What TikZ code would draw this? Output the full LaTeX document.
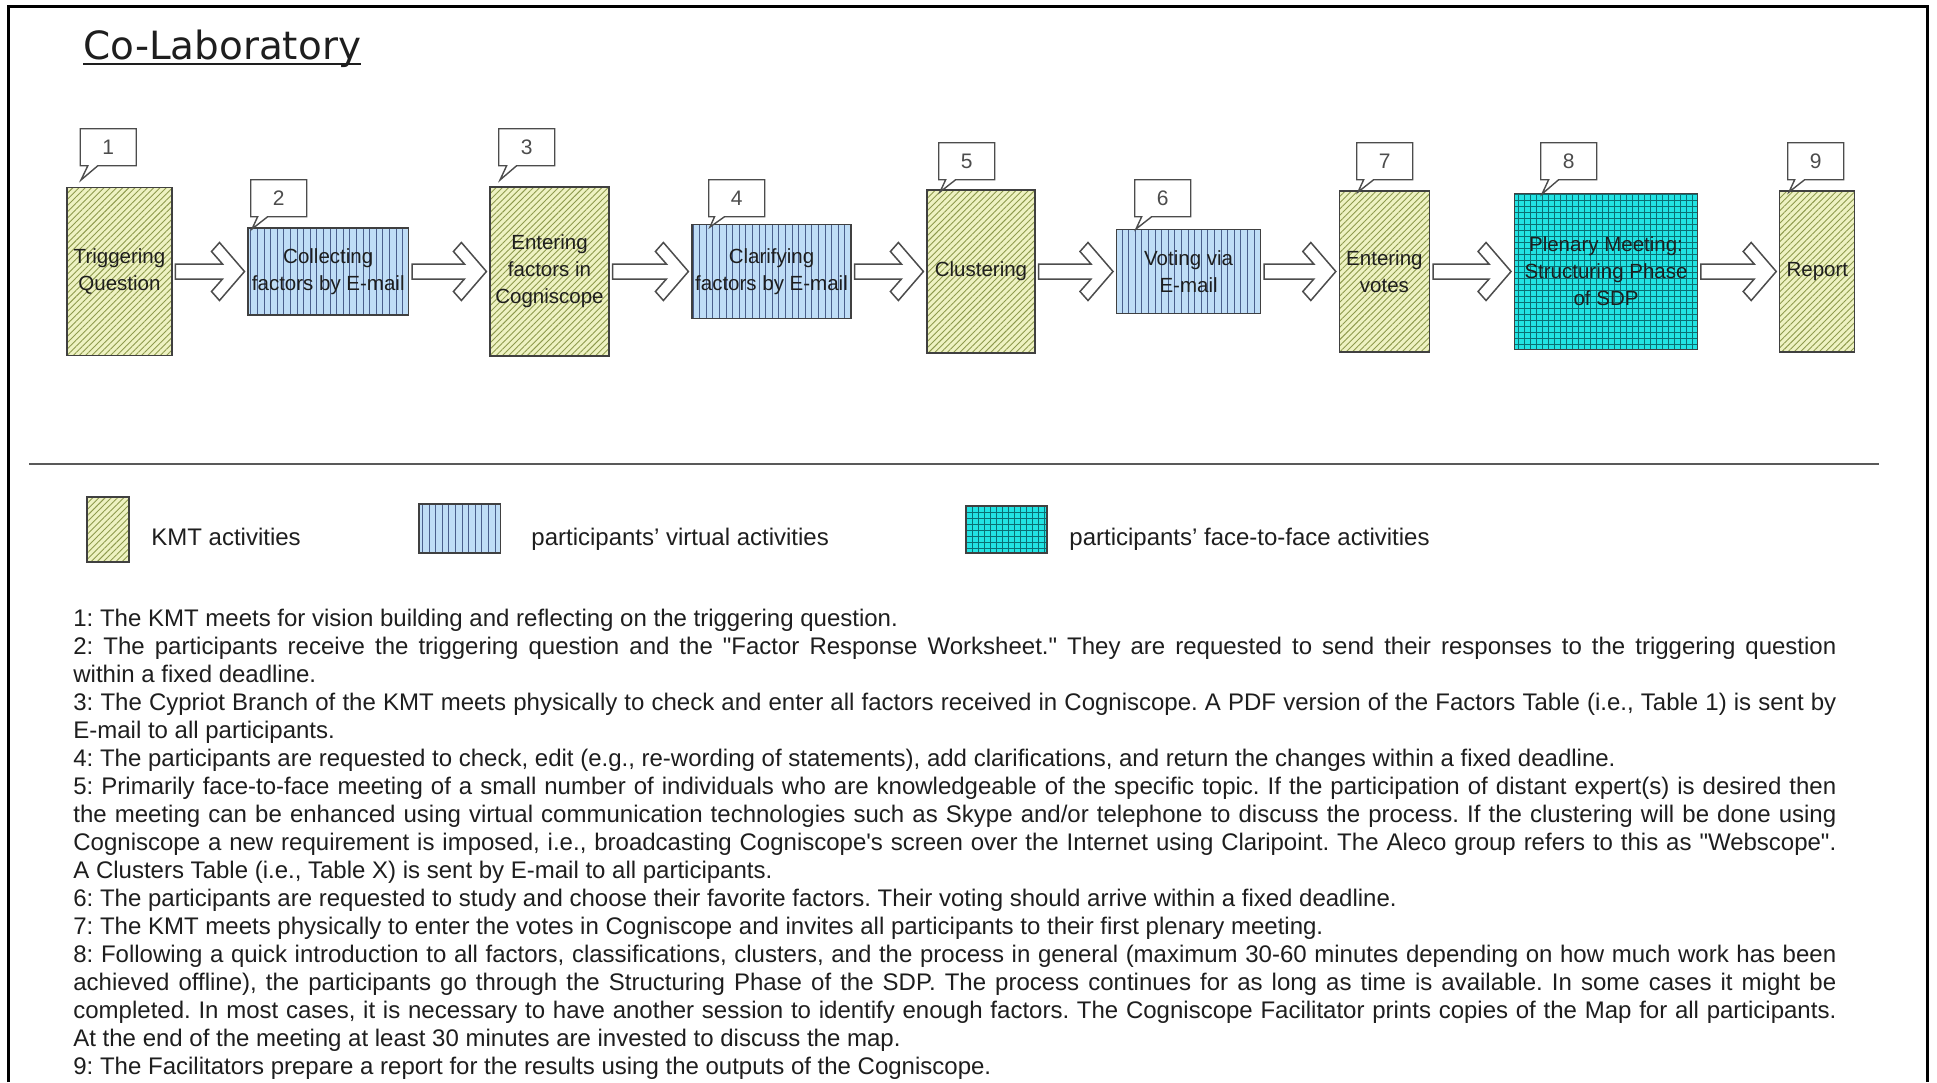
\documentclass[tikz,border=0pt]{standalone}
\usepackage{fontspec}
\setmainfont{Liberation Sans}[Ligatures=TeXOff]
\newfontfamily\titlefont{DejaVu Sans}
\usetikzlibrary{patterns.meta,shapes.callouts,calc}
\definecolor{kmtbg}{HTML}{EEF2C2}
\definecolor{kmtln}{HTML}{8E9A4E}
\definecolor{virbg}{HTML}{BFDDF6}
\definecolor{virln}{HTML}{4A5F8C}
\definecolor{ftfbg}{HTML}{22E3E3}
\definecolor{ftfln}{HTML}{0B6F73}
\definecolor{ink}{HTML}{1E1E1E}
\tikzset{
  box/.style={draw=black!75, line width=0.6pt, inner sep=1pt, align=center,
    font=\fontsize{10.25}{13.5}\selectfont, text=ink},
  kmt/.style={box, preaction={fill=kmtbg},
    pattern={Lines[angle=45,distance=2.2pt,line width=0.45pt]}, pattern color=kmtln},
  vir/.style={box, preaction={fill=virbg},
    pattern={Lines[angle=90,distance=3.3pt,line width=0.5pt]}, pattern color=virln},
  ftf/.style={box, preaction={fill=ftfbg},
    pattern={Hatch[angle=0,distance=3pt,line width=0.45pt]}, pattern color=ftfln},
  callnum/.style={rectangle callout, draw=black!70, line width=0.7pt, fill=white,
    minimum width=28pt, minimum height=18.5pt, inner sep=0pt,
    callout pointer width=5pt, font=\fontsize{10.5}{12}\selectfont,
    text=black!70, anchor=north west},
  chevron/.style={draw=black!70, fill=white, line width=0.75pt, line join=miter},
  body/.style={anchor=base west, inner sep=0pt,
    font=\fontsize{12}{14}\selectfont\frenchspacing, text=ink},
}
\newcommand\chevarrow[2]{%
  \draw[chevron] ($(#1.east)+(3,-7.5)$) -- ($(#2.west)+(-25,-7.5)$)
    -- ($(#2.west)+(-36,-20)$) -- ($(#2.west)+(-28,-29)$) -- ($(#2.west)+(-3,0)$)
    -- ($(#2.west)+(-28,29)$) -- ($(#2.west)+(-36,20)$) -- ($(#2.west)+(-25,7.5)$)
    -- ($(#1.east)+(3,7.5)$) -- cycle;}
\newcommand\jline[1]{\makebox[881.5pt][s]{#1}}
\begin{document}
\begin{tikzpicture}[x=0.5pt,y=-0.5pt]
\useasboundingbox (0,0) rectangle (1937,1082);
\fill[white] (0,0) rectangle (1937,1082);
% frame
\draw[line width=1.5pt, black] (8,1082) -- (8,6) -- (1927,6) -- (1927,1082);

% title
\node[anchor=base west, inner sep=0pt, font=\titlefont\fontsize{19.45}{22}\selectfont, text=ink] (title) at (83,59) {Co-Laboratory};
\draw[line width=1.1pt, ink] ($(title.base west)+(0,5)$) -- ($(title.base east)+(0,5)$);

% process boxes
\node[kmt, minimum width=52.5pt, minimum height=84pt] (b1) at (119.5,271.5) {Triggering\\Question};
\node[vir, minimum width=80.25pt, minimum height=43.5pt] (b2) at (328.25,271.5) {Collecting\\factors by E-mail};
\node[kmt, minimum width=59.5pt, minimum height=84.5pt] (b3) at (549.5,271.5) {Entering\\factors in\\Cogniscope};
\node[vir, minimum width=79.5pt, minimum height=47pt] (b4) at (771.5,271.5) {Clarifying\\factors by E-mail};
\node[kmt, minimum width=54pt, minimum height=81.5pt] (b5) at (981,271.5) {Clustering};
\node[vir, minimum width=72pt, minimum height=42pt] (b6) at (1188.6,271.5) {Voting via\\E-mail};
\node[kmt, minimum width=45pt, minimum height=80.5pt] (b7) at (1384.4,271.5) {Entering\\votes};
\node[ftf, minimum width=91.5pt, minimum height=78pt] (b8) at (1606,271.5) {Plenary Meeting:\\Structuring Phase\\of SDP};
\node[kmt, minimum width=37.5pt, minimum height=80.5pt] (b9) at (1817.3,271.5) {Report};

% arrows
\chevarrow{b1}{b2}
\chevarrow{b2}{b3}
\chevarrow{b3}{b4}
\chevarrow{b4}{b5}
\chevarrow{b5}{b6}
\chevarrow{b6}{b7}
\chevarrow{b7}{b8}
\chevarrow{b8}{b9}

% callouts
\node[callnum, callout absolute pointer={(81,180)}] (c1) at (79.5,128) {1};
\node[callnum, callout absolute pointer={(252,229)}] (c2) at (250,179) {2};
\node[callnum, callout absolute pointer={(500,180)}] (c3) at (498,128) {3};
\node[callnum, callout absolute pointer={(710,227)}] (c4) at (708,179) {4};
\node[callnum, callout absolute pointer={(940,192)}] (c5) at (938,142) {5};
\node[callnum, callout absolute pointer={(1136,229)}] (c6) at (1134,179) {6};
\node[callnum, callout absolute pointer={(1358,192)}] (c7) at (1356,142) {7};
\node[callnum, callout absolute pointer={(1542,194)}] (c8) at (1540,142) {8};
\node[callnum, callout absolute pointer={(1789,192)}] (c9) at (1787,142) {9};

% separator
\draw[line width=1.2pt, black!65] (29,464) -- (1879,464);

% legend
\node[kmt, minimum width=21pt, minimum height=32.5pt] (lk) at (108,529.5) {};
\node[body] (lkt) at (151,545) {KMT activities};
\node[vir, minimum width=40.8pt, minimum height=24.5pt] (lv) at (459.8,528.5) {};
\node[body] (lvt) at (531,545) {participants’ virtual activities};
\node[ftf, minimum width=40.5pt, minimum height=23.5pt] (lf) at (1006.5,529.5) {};
\node[body] (lft) at (1069,545) {participants’ face-to-face activities};

% body text
\node[body] (t1) at (73,626) {1: The KMT meets for vision building and reflecting on the triggering question.};
\node[body] (t2) at (73,654) {\jline{2: The participants receive the triggering question and the "Factor Response Worksheet." They are requested to send their responses to the triggering question}};
\node[body] (t3) at (73,682) {within a fixed deadline.};
\node[body] (t4) at (73,710) {\jline{3: The Cypriot Branch of the KMT meets physically to check and enter all factors received in Cogniscope. A PDF version of the Factors Table (i.e., Table 1) is sent by}};
\node[body] (t5) at (73,738) {E-mail to all participants.};
\node[body] (t6) at (73,766) {4: The participants are requested to check, edit (e.g., re-wording of statements), add clarifications, and return the changes within a fixed deadline.};
\node[body] (t7) at (73,794) {\jline{5: Primarily face-to-face meeting of a small number of individuals who are knowledgeable of the specific topic. If the participation of distant expert(s) is desired then}};
\node[body] (t8) at (73,822) {\jline{the meeting can be enhanced using virtual communication technologies such as Skype and/or telephone to discuss the process. If the clustering will be done using}};
\node[body] (t9) at (73,850) {\jline{Cogniscope a new requirement is imposed, i.e., broadcasting Cogniscope's screen over the Internet using Claripoint. The Aleco group refers to this as "Webscope".}};
\node[body] (t10) at (73,878) {A Clusters Table (i.e., Table X) is sent by E-mail to all participants.};
\node[body] (t11) at (73,906) {6: The participants are requested to study and choose their favorite factors. Their voting should arrive within a fixed deadline.};
\node[body] (t12) at (73,934) {7: The KMT meets physically to enter the votes in Cogniscope and invites all participants to their first plenary meeting.};
\node[body] (t13) at (73,962) {\jline{8: Following a quick introduction to all factors, classifications, clusters, and the process in general (maximum 30-60 minutes depending on how much work has been}};
\node[body] (t14) at (73,990) {\jline{achieved offline), the participants go through the Structuring Phase of the SDP. The process continues for as long as time is available. In some cases it might be}};
\node[body] (t15) at (73,1018) {\jline{completed. In most cases, it is necessary to have another session to identify enough factors. The Cogniscope Facilitator prints copies of the Map for all participants.}};
\node[body] (t16) at (73,1046) {At the end of the meeting at least 30 minutes are invested to discuss the map.};
\node[body] (t17) at (73,1074) {9: The Facilitators prepare a report for the results using the outputs of the Cogniscope.};
\end{tikzpicture}
\end{document}
